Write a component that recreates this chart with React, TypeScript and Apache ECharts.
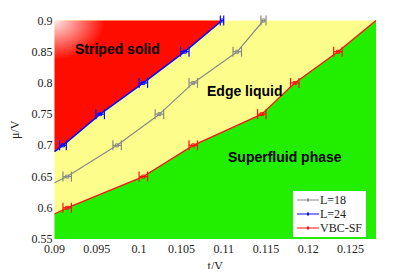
import React, { useEffect, useRef } from "react";
import * as echarts from "echarts";

const xTicks = { min: 0.09, max: 0.128, interval: 0.005 };
const yTicks = { min: 0.55, max: 0.9, interval: 0.05 };

// [t/V, mu/V, error]
const l18Points = [
  [0.0915, 0.65, 0.0005],
  [0.0974, 0.7, 0.0005],
  [0.1024, 0.75, 0.0005],
  [0.1064, 0.8, 0.0005],
  [0.1116, 0.85, 0.0005],
  [0.1147, 0.9, 0.0003],
];
const l18Line = [[0.09, 0.64], ...l18Points.map((p) => [p[0], p[1]])];

const l24Points = [
  [0.091, 0.7, 0.0004],
  [0.0954, 0.75, 0.0005],
  [0.1005, 0.8, 0.0005],
  [0.1054, 0.85, 0.0005],
  [0.1098, 0.9, 0.0002],
];
const l24Line = [[0.09, 0.69], ...l24Points.map((p) => [p[0], p[1]])];

const vbcPoints = [
  [0.0915, 0.6, 0.0005],
  [0.1005, 0.65, 0.0005],
  [0.1064, 0.7, 0.0005],
  [0.1145, 0.75, 0.0005],
  [0.1184, 0.8, 0.0005],
  [0.1235, 0.85, 0.0005],
];
const vbcLine = [[0.09, 0.59], ...vbcPoints.map((p) => [p[0], p[1]]), [0.128, 0.9]];

const errorSeries = (name: string, data: number[][], color: string) => ({
  type: "custom",
  name,
  z: 5,
  data,
  renderItem: (params: any, api: any) => {
    const x = api.value(0);
    const y = api.value(1);
    const e = api.value(2);
    const lo = api.coord([x - e, y]);
    const hi = api.coord([x + e, y]);
    const c = api.coord([x, y]);
    const cap = 5;
    return {
      type: "group",
      children: [
        { type: "line", shape: { x1: lo[0], y1: lo[1], x2: hi[0], y2: hi[1] }, style: { stroke: color, lineWidth: 1.2 } },
        { type: "line", shape: { x1: lo[0], y1: lo[1] - cap, x2: lo[0], y2: lo[1] + cap }, style: { stroke: color, lineWidth: 1.2 } },
        { type: "line", shape: { x1: hi[0], y1: hi[1] - cap, x2: hi[0], y2: hi[1] + cap }, style: { stroke: color, lineWidth: 1.2 } },
        { type: "rect", shape: { x: c[0] - 1.5, y: c[1] - 1.5, width: 3, height: 3 }, style: { fill: "none", stroke: color, lineWidth: 1 } },
      ],
    };
  },
});

const legendIcon = "path://M0,3.6H22V4.4H0Z M10,2.5H12V5.5H10Z";

export default function App() {
  const ref = useRef<HTMLDivElement>(null);
  useEffect(() => {
    const chart = echarts.init(ref.current!, null, { renderer: "svg" });
    const serif = "Liberation Serif";
    const sans = "'Liberation Sans', Arial, sans-serif";
    chart.setOption({
      animation: false,
      textStyle: { fontFamily: serif },
      grid: {
        left: 54.5,
        top: 20.5,
        right: 39,
        bottom: 31,
        show: true,
        backgroundColor: "#fdfd8c",
        borderWidth: 0,
      },
      xAxis: {
        type: "value",
        min: xTicks.min,
        max: xTicks.max,
        interval: xTicks.interval,
        name: "t/V",
        nameLocation: "middle",
        nameGap: 21,
        nameTextStyle: { fontFamily: serif, fontSize: 12, color: "#222" },
        axisLine: { show: false },
        axisTick: { show: false },
        splitLine: { show: false },
        axisLabel: {
          fontFamily: serif,
          fontSize: 12,
          color: "#222",
          margin: 4,
          formatter: (v: number) => String(+v.toFixed(3)),
          showMaxLabel: false,
        },
      },
      yAxis: {
        type: "value",
        min: yTicks.min,
        max: yTicks.max,
        interval: yTicks.interval,
        name: "μ/V",
        nameLocation: "middle",
        nameGap: 33,
        nameTextStyle: { fontFamily: serif, fontSize: 12, color: "#222" },
        axisLine: { show: false },
        axisTick: { show: false },
        splitLine: { show: false },
        axisLabel: {
          fontFamily: serif,
          fontSize: 12,
          color: "#222",
          margin: 2,
          formatter: (v: number) => String(+v.toFixed(2)),
        },
      },
      legend: {
        orient: "vertical",
        right: 49,
        bottom: 40,
        backgroundColor: "#ffffff",
        padding: [3, 4, 3, 4],
        itemGap: 2,
        itemWidth: 22,
        itemHeight: 8,
        data: [
          { name: "L=18", icon: legendIcon },
          { name: "L=24", icon: legendIcon },
          { name: "VBC-SF", icon: legendIcon },
        ],
        textStyle: { fontFamily: serif, fontSize: 12, color: "#222", padding: [0, 0, 0, -4] },
      },
      series: [
        {
          type: "line",
          name: "L=24",
          data: l24Line,
          showSymbol: false,
          z: 2,
          lineStyle: { color: "#0a0aff", width: 1.6 },
          itemStyle: { color: "#0a0aff" },
          areaStyle: {
            origin: "end",
            opacity: 1,
            color: new echarts.graphic.RadialGradient(0, 0, 0.3, [
              { offset: 0, color: "#ffe8e8" },
              { offset: 1, color: "#ff0c00" },
            ]),
          },
        },
        {
          type: "line",
          name: "VBC-SF",
          data: vbcLine,
          showSymbol: false,
          z: 2,
          lineStyle: { color: "#ff1010", width: 1.3 },
          itemStyle: { color: "#ff1010" },
          areaStyle: { origin: "start", opacity: 1, color: "#22ee00" },
        },
        {
          type: "line",
          name: "L=18",
          data: l18Line,
          showSymbol: false,
          z: 3,
          lineStyle: { color: "#8a8a8a", width: 1.2 },
          itemStyle: { color: "#8a8a8a" },
        },
        errorSeries("L=18", l18Points, "#8a8a8a"),
        errorSeries("L=24", l24Points, "#0a0aff"),
        errorSeries("VBC-SF", vbcPoints, "#ff1010"),
      ],
      graphic: [
        { type: "text", z: 100, left: 75, top: 42, style: { text: "Striped solid", font: "bold 14px " + sans, fill: "#000" } },
        { type: "text", z: 100, left: 207, top: 84, style: { text: "Edge liquid", font: "bold 14px " + sans, fill: "#000" } },
        { type: "text", z: 100, left: 228, top: 150, style: { text: "Superfluid phase", font: "bold 14px " + sans, fill: "#000" } },
      ],
    });
    return () => chart.dispose();
  }, []);
  return <div ref={ref} style={{ width: 415, height: 277, margin: -8 }} />;
}
